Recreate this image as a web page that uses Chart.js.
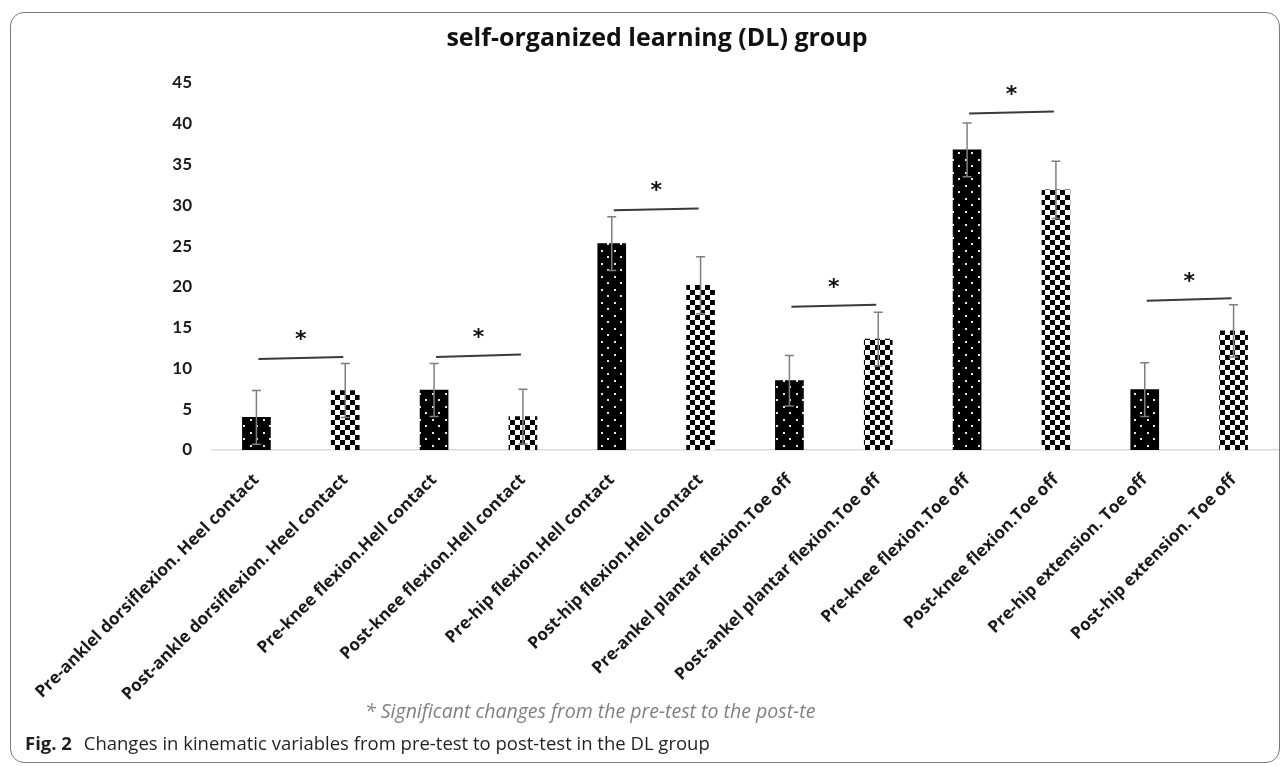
<!DOCTYPE html>
<html>
<head>
<meta charset="utf-8">
<script src="https://cdn.jsdelivr.net/npm/chart.js@4.4.1/dist/chart.umd.min.js"></script>
<style>
  body { margin: 0; background: #fff; }
  #wrap { position: relative; width: 1287px; height: 766px; overflow: hidden; }
  #frame { position: absolute; left: 10px; top: 12px; width: 1270px; height: 751px;
    border: 1.5px solid #7a7a7a; border-radius: 14px; box-sizing: border-box; }
  #box { position: absolute; left: 0; top: 0; width: 1287px; height: 766px; }
  #note { position: absolute; left: 365px; top: 697px; font: italic 19.5px "Open Sans", sans-serif; color: #7f7f7f; white-space: nowrap; }
  #caption { position: absolute; left: 25px; top: 730px; font: 18.5px "Open Sans", sans-serif; color: #231f20; white-space: nowrap; }
  #caption b { margin-right: 7px; }
</style>
</head>
<body>
<div id="wrap">
  <div id="frame"></div>
  <div id="box"><canvas id="chart"></canvas></div>
  <div id="note">* Significant changes from the pre-test to the post-te</div>
  <div id="caption"><b>Fig. 2</b> Changes in kinematic variables from pre-test to post-test in the DL group</div>
</div>
<script>
const labels = [
  "Pre-anklel dorsiflexion. Heel contact",
  "Post-ankle dorsiflexion. Heel contact",
  "Pre-knee flexion.Hell contact",
  "Post-knee flexion.Hell contact",
  "Pre-hip flexion.Hell contact",
  "Post-hip flexion.Hell contact",
  "Pre-ankel plantar flexion.Toe off",
  "Post-ankel plantar flexion.Toe off",
  "Pre-knee flexion.Toe off",
  "Post-knee flexion.Toe off",
  "Pre-hip extension. Toe off",
  "Post-hip extension. Toe off"
];
const values = [4.0, 7.3, 7.35, 4.1, 25.3, 20.2, 8.5, 13.6, 36.8, 31.9, 7.4, 14.6];
const errors = [3.3, 3.3, 3.25, 3.35, 3.3, 3.5, 3.1, 3.3, 3.3, 3.5, 3.3, 3.2];
const yTicks = [0, 5, 10, 15, 20, 25, 30, 35, 40, 45];

// significance brackets: [pre index, post index], line height at left and right end
const sigPairs = [[0, 1], [2, 3], [4, 5], [6, 7], [8, 9], [10, 11]];
const sigLeft = [11.15, 11.4, 29.4, 17.55, 41.25, 18.3];
const sigRight = [11.4, 11.7, 29.6, 17.8, 41.5, 18.6];

function makePattern(kind) {
  const c = document.createElement("canvas");
  const g = c.getContext("2d");
  if (kind === "dots") {
    c.width = 13; c.height = 13;
    g.fillStyle = "#000"; g.fillRect(0, 0, 13, 13);
    g.fillStyle = "#e8e8e8";
    g.fillRect(3, 3, 2, 2);
    g.fillRect(9, 9, 2, 2);
  } else {
    c.width = 10; c.height = 10;
    g.fillStyle = "#fff"; g.fillRect(0, 0, 10, 10);
    g.fillStyle = "#000";
    g.fillRect(0, 0, 5, 5);
    g.fillRect(5, 5, 5, 5);
  }
  return g.createPattern(c, "repeat");
}
const dots = makePattern("dots");
const checks = makePattern("checks");

const extras = {
  id: "extras",
  afterDatasetsDraw(chart) {
    const { ctx, scales: { x, y } } = chart;
    ctx.save();
    // error bars
    ctx.strokeStyle = "#7f7f7f";
    ctx.lineWidth = 1.5;
    values.forEach((v, i) => {
      const px = x.getPixelForValue(i);
      const top = y.getPixelForValue(v + errors[i]);
      const bot = y.getPixelForValue(v - errors[i]);
      ctx.beginPath();
      ctx.moveTo(px, top); ctx.lineTo(px, bot);
      ctx.moveTo(px - 4.5, top); ctx.lineTo(px + 4.5, top);
      ctx.moveTo(px - 4.5, bot); ctx.lineTo(px + 4.5, bot);
      ctx.stroke();
    });
    // significance lines and stars
    ctx.strokeStyle = "#3a3a3a";
    ctx.lineWidth = 2;
    ctx.fillStyle = "#111";
    ctx.font = "bold 22px 'DejaVu Sans'";
    ctx.textAlign = "center";
    ctx.textBaseline = "alphabetic";
    sigPairs.forEach(([a, b], k) => {
      const x1 = x.getPixelForValue(a) + 2;
      const x2 = x.getPixelForValue(b) - 2;
      const y1 = y.getPixelForValue(sigLeft[k]);
      const y2 = y.getPixelForValue(sigRight[k]);
      ctx.beginPath();
      ctx.moveTo(x1, y1); ctx.lineTo(x2, y2);
      ctx.stroke();
      ctx.fillText("*", (x1 + x2) / 2, (y1 + y2) / 2 - 12);
    });
    ctx.restore();
  }
};

new Chart(document.getElementById("chart"), {
  type: "bar",
  data: {
    labels: labels,
    datasets: [{
      data: values,
      backgroundColor: values.map((v, i) => (i % 2 === 0 ? dots : checks)),
      borderWidth: 0,
      barThickness: 28
    }]
  },
  options: {
    responsive: true,
    maintainAspectRatio: false,
    animation: false,
    layout: { padding: { left: 36, right: 9, top: 0, bottom: 0 } },
    plugins: {
      legend: { display: false },
      tooltip: { enabled: false },
      title: {
        display: true,
        text: "self-organized learning (DL) group",
        color: "#111",
        font: { family: "Open Sans", size: 25, weight: "bold" },
        padding: { top: 24, bottom: 29 }
      }
    },
    scales: {
      x: {
        grid: { display: false, drawTicks: false },
        border: { display: true, color: "#d9d9d9", width: 1.5 },
        ticks: {
          autoSkip: false,
          maxRotation: 45,
          minRotation: 45,
          padding: 20,
          color: "#1a1a1a",
          font: { family: "Open Sans", size: 17, weight: "bold" }
        },
        afterFit(s) { s.height = 316; s.paddingLeft = 0; s.paddingRight = 0; }
      },
      y: {
        min: 0,
        max: 45,
        afterBuildTicks(s) { s.ticks = yTicks.map(v => ({ value: v })); },
        grid: { display: false, drawTicks: false },
        border: { display: false },
        ticks: {
          padding: 20,
          color: "#1a1a1a",
          font: { family: "Lato", size: 17, weight: "bold" }
        },
        afterFit(s) { s.width = 176; }
      }
    }
  },
  plugins: [extras]
});
</script>
</body>
</html>
